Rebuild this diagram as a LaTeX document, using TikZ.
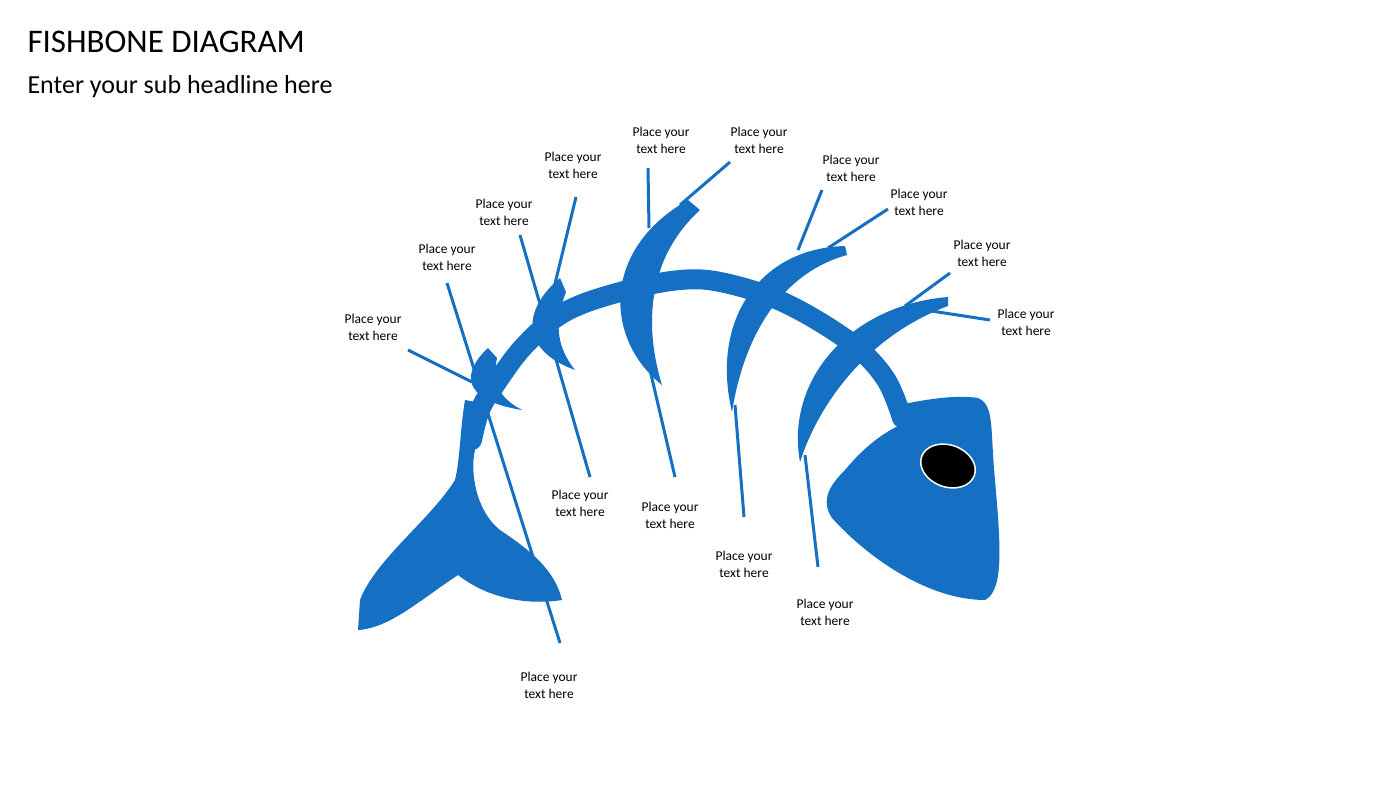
\documentclass[tikz,border=0pt]{standalone}
\usepackage{fontspec}
\setmainfont{Carlito}
\definecolor{fb}{HTML}{1570C4}
\begin{document}
\begin{tikzpicture}[x=1pt,y=-1pt,
  lbl/.style={font=\fontsize{13.5}{17}\selectfont,align=center},
  bone/.style={fill=fb,draw=none},
  ln/.style={draw=fb,line width=3pt}]
\useasboundingbox (0,0) rectangle (1400,788);
\node[anchor=west,font=\fontsize{33}{36}\selectfont] (title) at (24,42) {FISHBONE DIAGRAM};
\node[anchor=west,font=\fontsize{26}{30}\selectfont] (sub) at (24,87) {Enter your sub headline here};
% spine
\draw[fb,line width=20pt,line cap=round] plot[smooth,tension=0.6] coordinates{(472,440)(480,410)(495,385)(525,345)(565,312)(620,292)(680,280)(725,283)(785,303)(850,342)(885,378)(902,418)};
% tail with stem
\path[bone] (465,400) .. controls (460,430) and (460,460) .. (455,480) .. controls (430,520) and (375,560) .. (360,600) -- (358,630) .. controls (390,628) and (420,600) .. (458,575) .. controls (490,600) and (530,605) .. (562,600) .. controls (555,570) and (530,550) .. (500,530) .. controls (475,510) and (470,470) .. (475,450) .. controls (478,430) and (485,415) .. (492,405) -- cycle;
% head
\path[bone] (900,405) .. controls (930,398) and (960,395) .. (978,398) .. controls (995,405) and (990,430) .. (995,480) .. controls (1000,540) and (1005,590) .. (985,600) .. controls (930,600) and (870,560) .. (832,518) .. controls (820,500) and (830,485) .. (845,470) .. controls (870,440) and (890,430) .. (900,425) -- cycle;
\draw[fill=black,draw=white,line width=1.5pt,rotate around={-20:(948,466)}] (948,466) ellipse [x radius=28pt,y radius=21pt];
% ribs
\path[bone] (488,348) .. controls (462,372) and (460,400) .. (522,410) .. controls (500,398) and (492,385) .. (497,358) -- cycle;
\path[bone] (560,278) .. controls (522,310) and (520,350) .. (575,370) .. controls (555,345) and (555,320) .. (566,292) -- cycle;
\path[bone] (688,200) .. controls (600,250) and (605,340) .. (662,385) .. controls (645,330) and (645,260) .. (700,210) -- cycle;
\path[bone] (845,246) .. controls (760,248) and (710,320) .. (732,412) .. controls (745,330) and (785,272) .. (847,255) -- cycle;
\path[bone] (948,297) .. controls (850,305) and (785,380) .. (800,462) .. controls (820,400) and (870,335) .. (948,306) -- cycle;
% labels
\node[lbl] (t1) at (373,327) {Place your\\text here};
\node[lbl] (t2) at (447,257) {Place your\\text here};
\node[lbl] (t3) at (504,212) {Place your\\text here};
\node[lbl] (t4) at (573,165) {Place your\\text here};
\node[lbl] (t5) at (661,140) {Place your\\text here};
\node[lbl] (t6) at (759,140) {Place your\\text here};
\node[lbl] (t7) at (851,168) {Place your\\text here};
\node[lbl] (t8) at (919,202) {Place your\\text here};
\node[lbl] (t9) at (982,253) {Place your\\text here};
\node[lbl] (t10) at (1026,322) {Place your\\text here};
\node[lbl] (b1) at (549,685) {Place your\\text here};
\node[lbl] (b2) at (580,503) {Place your\\text here};
\node[lbl] (b3) at (670,515) {Place your\\text here};
\node[lbl] (b4) at (744,564) {Place your\\text here};
\node[lbl] (b5) at (825,612) {Place your\\text here};
\coordinate (e1) at (472,382);
\coordinate (e2a) at (447,283); \coordinate (e2b) at (560,643);
\coordinate (e3a) at (520,235); \coordinate (e3b) at (590,477);
\coordinate (e4a) at (576,197); \coordinate (e4b) at (553,292);
\coordinate (e5a) at (648,168); \coordinate (e5b) at (649,228);
\coordinate (e5c) at (650,370); \coordinate (e5d) at (675,477);
\coordinate (e6a) at (730,162); \coordinate (e6b) at (680,205);
\coordinate (e7a) at (822,190); \coordinate (e7b) at (798,250);
\coordinate (e8a) at (888,209); \coordinate (e8b) at (828,248);
\coordinate (e9a) at (950,273); \coordinate (e9b) at (905,306);
\coordinate (e10a) at (990,320); \coordinate (e10b) at (925,310);
\coordinate (e11a) at (735,405); \coordinate (e11b) at (744,517);
\coordinate (e12a) at (805,455); \coordinate (e12b) at (818,567);
\draw[ln] (408,350) -- (e1);
\draw[ln] (e2a) -- (e2b);
\draw[ln] (e3a) -- (e3b);
\draw[ln] (e4a) -- (e4b);
\draw[ln] (e5a) -- (e5b);
\draw[ln] (e5c) -- (e5d);
\draw[ln] (e6a) -- (e6b);
\draw[ln] (e7a) -- (e7b);
\draw[ln] (e8a) -- (e8b);
\draw[ln] (e9a) -- (e9b);
\draw[ln] (e10a) -- (e10b);
\draw[ln] (e11a) -- (e11b);
\draw[ln] (e12a) -- (e12b);
\end{tikzpicture}
\end{document}
